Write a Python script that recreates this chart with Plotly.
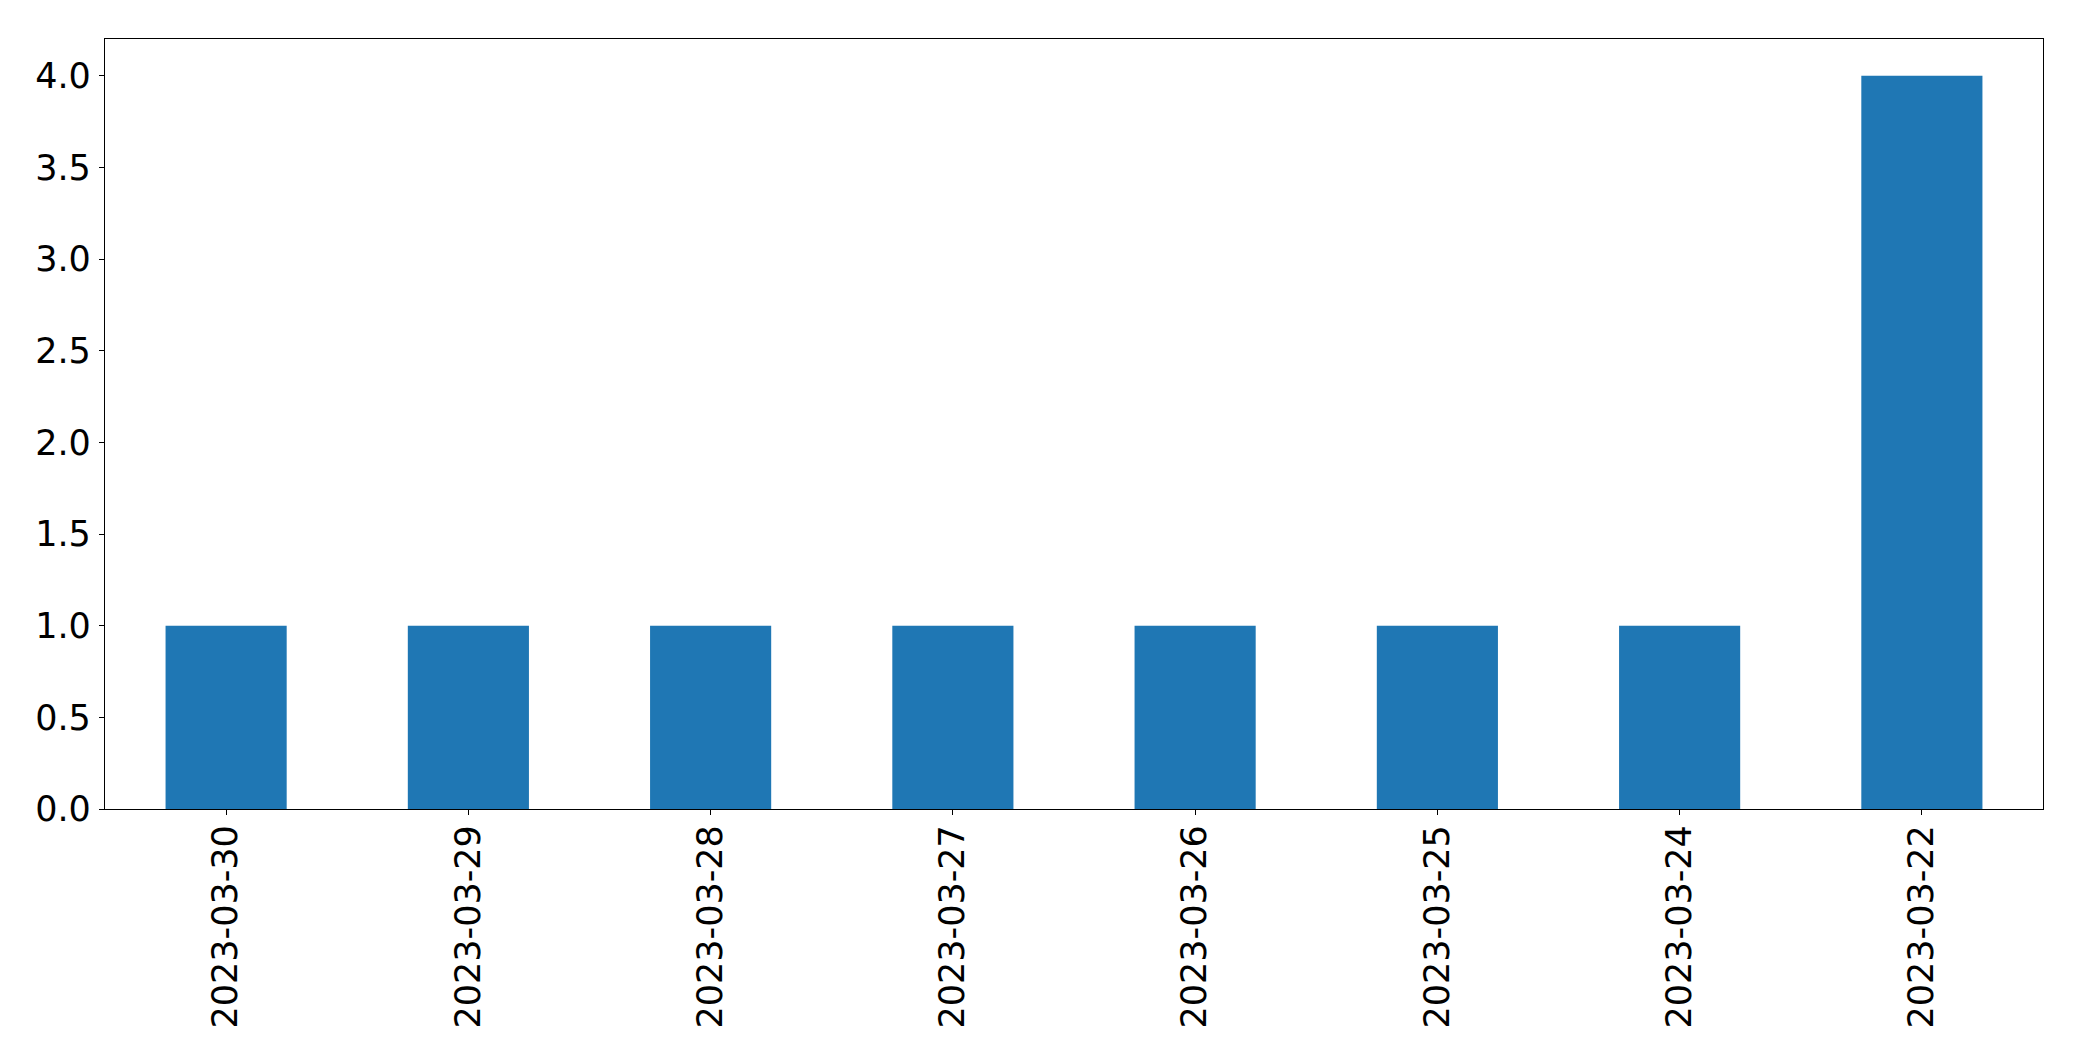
import plotly.graph_objects as go

dates = ["2023-03-30", "2023-03-29", "2023-03-28", "2023-03-27",
         "2023-03-26", "2023-03-25", "2023-03-24", "2023-03-22"]
counts = [1, 1, 1, 1, 1, 1, 1, 4]
y_ticks = [0.0, 0.5, 1.0, 1.5, 2.0, 2.5, 3.0, 3.5, 4.0]

fig = go.Figure(go.Bar(x=dates, y=counts, width=0.5, marker_color="#1f77b4",
                       marker_line_width=0))

font = dict(family="DejaVu Sans", size=35, color="black")
fig.update_layout(
    width=2082, height=1061,
    margin=dict(l=97, r=47, t=31, b=260),
    plot_bgcolor="white", paper_bgcolor="white",
    showlegend=False, font=font,
)
fig.update_xaxes(type="category", range=[-0.5, 7.5], tickangle=-90,
                 showline=True, mirror=True, linecolor="black", linewidth=1.3,
                 ticks="outside", ticklen=5, tickwidth=1.3, tickcolor="black",
                 showgrid=False, tickfont=font, ticklabelstandoff=-4)
fig.update_yaxes(range=[0, 4.2], tickvals=y_ticks,
                 ticktext=[f"{v:.1f}" for v in y_ticks],
                 showline=True, mirror=True, linecolor="black", linewidth=1.3,
                 ticks="outside", ticklen=5, tickwidth=1.3, tickcolor="black",
                 showgrid=False, zeroline=False, tickfont=font, ticklabelstandoff=1)
fig.write_html("out.html")
